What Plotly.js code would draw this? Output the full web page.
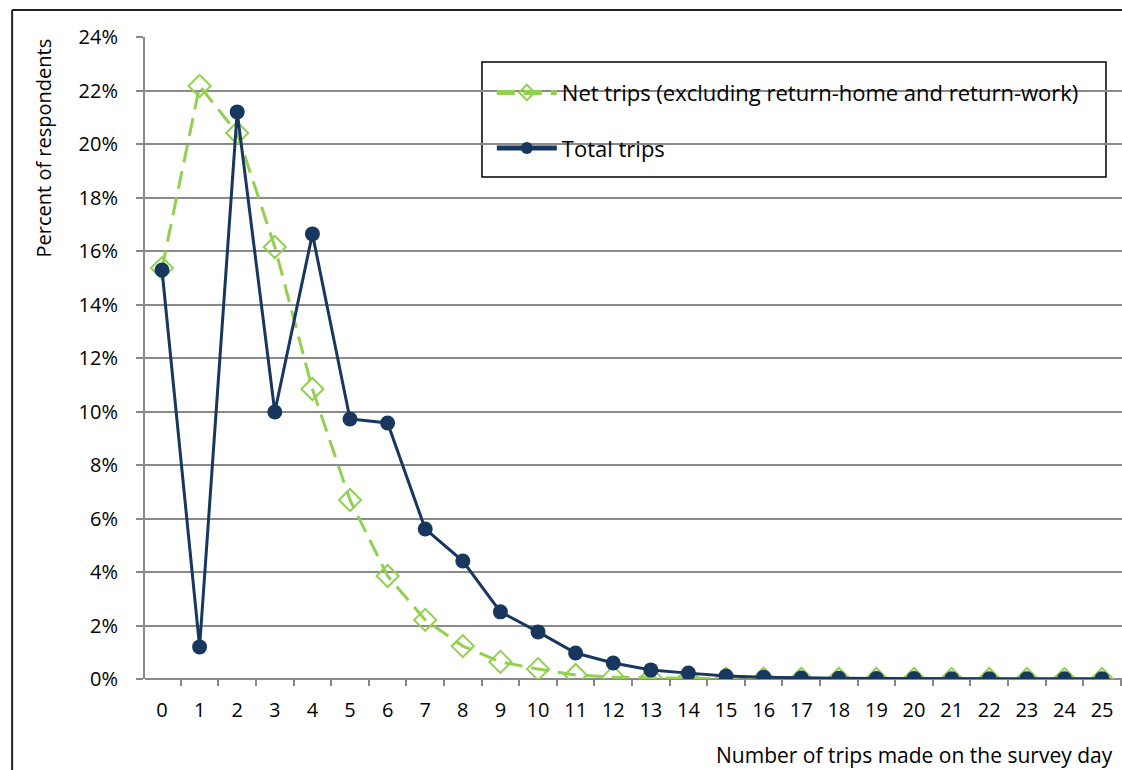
<!DOCTYPE html>
<html><head><meta charset="utf-8">
<script src="https://cdn.plot.ly/plotly-3.0.1.min.js"></script>
<style>html,body{margin:0;padding:0;background:#fff}#chart{width:1122px;height:770px}</style>
</head><body><div id="chart"></div>
<script>
const trips = [0,1,2,3,4,5,6,7,8,9,10,11,12,13,14,15,16,17,18,19,20,21,22,23,24,25];
const netTrips = [15.36,22.17,20.41,16.15,10.84,6.69,3.85,2.21,1.23,0.64,0.37,0.15,0.07,0.04,0.03,0.01,0.01,0.01,0.01,0.0,0.0,0.0,0.0,0.0,0.0,0.0];
const totalTrips = [15.29,1.20,21.2,9.98,16.64,9.72,9.57,5.61,4.41,2.51,1.76,0.97,0.60,0.34,0.22,0.11,0.07,0.04,0.03,0.02,0.02,0.01,0.01,0.01,0.01,0.01];
const netName = 'Net trips (excluding return-home and return-work)';
const totalName = 'Total trips';
const yTicks = [0,2,4,6,8,10,12,14,16,18,20,22,24];
const yTickText = yTicks.map(v => v + '%');

const FONT = 'Open Sans, Liberation Sans, sans-serif';
const FS = 20;
const data = [
  {x: trips, y: netTrips, name: netName, type: 'scatter', mode: 'lines+markers',
   legendgroup: 'a',
   line: {color: '#92D050', width: 3, dash: '18px,9px'},
   marker: {symbol: 'diamond-open', size: 17, color: '#92D050', line: {width: 2, color: '#92D050'}}},
  {x: trips, y: totalTrips, name: totalName, type: 'scatter', mode: 'lines+markers',
   legendgroup: 'b',
   line: {color: '#17375E', width: 3},
   marker: {symbol: 'circle', size: 15, color: '#17375E'}}
];
const layout = {
  width: 1122, height: 770,
  margin: {l: 145, r: 0, t: 37, b: 91},
  paper_bgcolor: '#fff', plot_bgcolor: '#fff',
  font: {family: FONT, size: FS, color: '#000'},
  showlegend: true,
  legend: {x: 0.355, y: 0.946, xanchor: 'left', yanchor: 'top', bgcolor: 'rgba(0,0,0,0)',
           borderwidth: 0, traceorder: 'grouped', tracegroupgap: 24, itemwidth: 60,
           itemsizing: 'constant',
           font: {family: FONT, size: 22}},
  xaxis: {range: [-0.452, 25.53], tickvals: trips, ticktext: trips.map(String),
          ticks: '', showgrid: false, zeroline: false, showline: false,
          tickfont: {family: FONT, size: FS}, ticklabelstandoff: 17,
          minor: {tick0: -0.5, dtick: 1, ticks: 'outside', ticklen: 6, tickcolor: '#888', tickwidth: 2, showgrid: false},
          fixedrange: true},
  yaxis: {range: [0, 24], tickvals: yTicks, ticktext: yTickText, ticks: 'outside', ticklen: 7,
          tickcolor: '#888', tickwidth: 2, showgrid: true, gridcolor: '#8a8a8a', gridwidth: 2,
          zeroline: true, zerolinecolor: '#8a8a8a', zerolinewidth: 2,
          showline: true, linecolor: '#8a8a8a', linewidth: 2,
          tickfont: {family: FONT, size: FS}, ticklabelstandoff: 14, fixedrange: true},
  shapes: [
    {type: 'rect', xref: 'paper', yref: 'paper', x0: 0.3449, x1: 0.9836, y0: 0.782, y1: 0.961,
     fillcolor: '#fff', line: {color: '#000', width: 1.5}, layer: 'below'},
    {type: 'line', xref: 'paper', yref: 'paper', x0: -0.136, x1: -0.136, y0: -0.2, y1: 1.042,
     line: {color: '#222', width: 2}},
    {type: 'line', xref: 'paper', yref: 'paper', x0: -0.136, x1: 1.01, y0: 1.042, y1: 1.042,
     line: {color: '#222', width: 2}}
  ],
  annotations: [
    {text: 'Percent of respondents', xref: 'paper', yref: 'paper', x: -0.104, y: 0.827,
     xanchor: 'center', yanchor: 'middle',
     textangle: -90, showarrow: false, font: {family: FONT, size: FS}},
    {text: 'Number of trips made on the survey day', xref: 'paper', yref: 'paper', x: 0.993, y: -0.118,
     xanchor: 'right', yanchor: 'middle', showarrow: false, font: {family: FONT, size: 21}}
  ]
};
Plotly.newPlot('chart', data, layout, {displayModeBar: false, staticPlot: true});
</script></body></html>
